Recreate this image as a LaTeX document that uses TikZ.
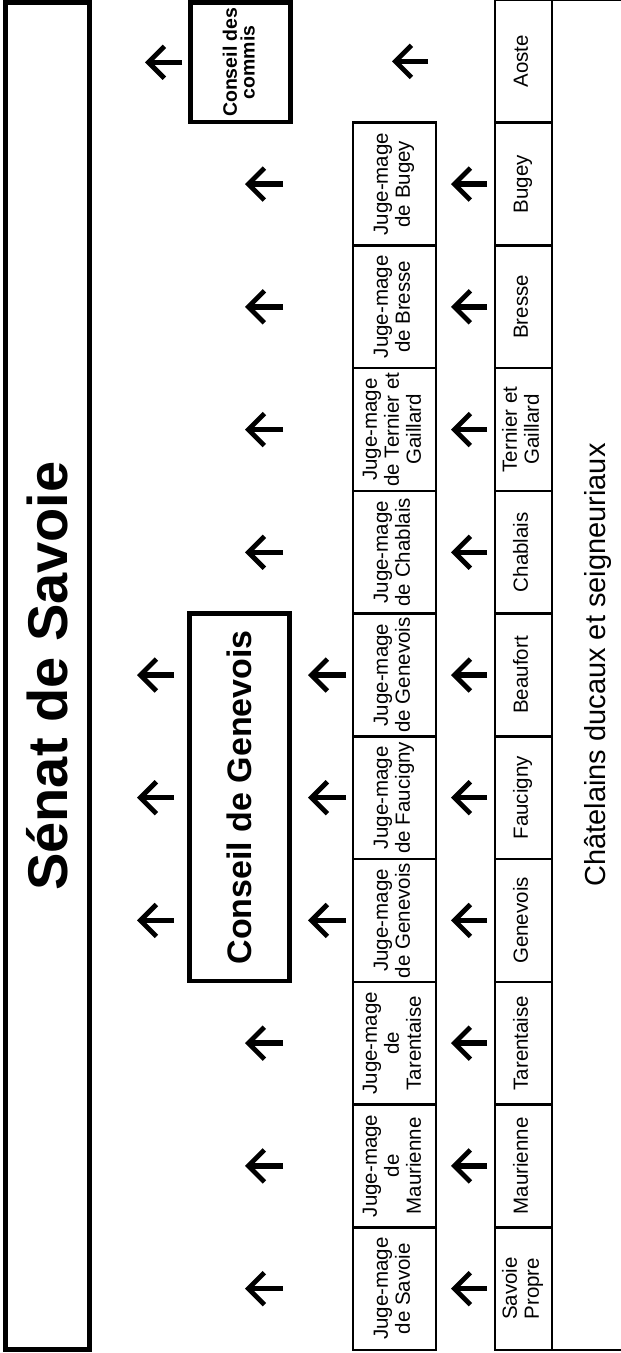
\documentclass[tikz,border=0pt]{standalone}
\usepackage{fontspec}
\setmainfont{Liberation Sans}
\usetikzlibrary{arrows.meta}
\newcommand{\rtx}[1]{\rotatebox{90}{\begin{tabular}{@{}c@{}}#1\end{tabular}}}
\begin{document}
\begin{tikzpicture}[x=1pt,y=-1pt,
  thinbox/.style={draw, line width=2.5pt, inner sep=0pt, outer sep=0pt,
    minimum height=122.73pt, font=\fontsize{20.5}{22}\selectfont},
  jmbox/.style={thinbox, minimum width=83pt},
  chbox/.style={thinbox, minimum width=57pt},
  thickbox/.style={draw, line width=4.5pt, inner sep=0pt, outer sep=0pt},
  arr/.style={line width=5.5pt, -{Straight Barb[length=16pt,width=32pt,line width=4.8pt]}}]
\useasboundingbox (0,0) rectangle (621,1353);

% Senat
\node[thickbox, line width=5pt, minimum width=84pt, minimum height=1347pt] (senat) at (47.5,676)
  {\rotatebox{90}{\fontsize{56}{60}\selectfont\bfseries Sénat de Savoie}};

% Conseils
\node[thickbox, minimum width=100pt, minimum height=119.5pt] (commis) at (240.5,62.25)
  {\rtx{\fontsize{19.5}{23}\selectfont\bfseries Conseil des\\\fontsize{19.5}{23}\selectfont\bfseries commis}};
\node[thickbox, minimum width=100pt, minimum height=367.5pt] (cg) at (239.5,797.3)
  {\rotatebox{90}{\fontsize{34}{38}\selectfont\bfseries Conseil de Genevois}};

% outer chatelains box
\node[thinbox, minimum width=91pt, minimum height=1350pt] (outer) at (597.5,675) {};
\node[inner sep=0pt] (chtext) at (597.5,665)
  {\rotatebox{90}{\fontsize{29}{32}\selectfont Châtelains ducaux et seigneuriaux}};

% chatelain boxes
\node[chbox] (ch0) at (523.5,61.36) {\rtx{Aoste}};
\node[chbox] (ch1) at (523.5,184.09) {\rtx{Bugey}};
\node[chbox] (ch2) at (523.5,306.82) {\rtx{Bresse}};
\node[chbox] (ch3) at (523.5,429.55) {\rtx{Ternier et\\Gaillard}};
\node[chbox] (ch4) at (523.5,552.27) {\rtx{Chablais}};
\node[chbox] (ch5) at (523.5,675.00) {\rtx{Beaufort}};
\node[chbox] (ch6) at (523.5,797.73) {\rtx{Faucigny}};
\node[chbox] (ch7) at (523.5,920.45) {\rtx{Genevois}};
\node[chbox] (ch8) at (523.5,1043.18) {\rtx{Tarentaise}};
\node[chbox] (ch9) at (523.5,1165.91) {\rtx{Maurienne}};
\node[chbox] (ch10) at (523.5,1288.64) {\rtx{Savoie\\Propre}};

% juge-mage boxes
\node[jmbox] (jm1) at (394.5,184.09) {\rtx{Juge-mage\\de Bugey}};
\node[jmbox] (jm2) at (394.5,306.82) {\rtx{Juge-mage\\de Bresse}};
\node[jmbox] (jm3) at (394.5,429.55) {\rtx{Juge-mage\\de Ternier et\\Gaillard}};
\node[jmbox] (jm4) at (394.5,552.27) {\rtx{Juge-mage\\de Chablais}};
\node[jmbox] (jm5) at (394.5,675.00) {\rtx{Juge-mage\\de Genevois}};
\node[jmbox] (jm6) at (394.5,797.73) {\rtx{Juge-mage\\de Faucigny}};
\node[jmbox] (jm7) at (394.5,920.45) {\rtx{Juge-mage\\de Genevois}};
\node[jmbox] (jm8) at (394.5,1043.18) {\rtx{Juge-mage\\de\\Tarentaise}};
\node[jmbox] (jm9) at (394.5,1165.91) {\rtx{Juge-mage\\de\\Maurienne}};
\node[jmbox] (jm10) at (394.5,1288.64) {\rtx{Juge-mage\\de Savoie}};

% arrows chatelains -> juge-mage
\foreach \k in {1,...,10}
  \draw[arr, shorten <=8pt, shorten >=15pt] (ch\k.west) -- (jm\k.east |- ch\k.west);
% Aoste -> commis
\draw[arr, shorten <=67pt, shorten >=101.5pt] (ch0.west) -- (commis.east |- ch0.west);
% commis -> senat
\draw[arr, shorten <=8.5pt, shorten >=55.5pt] (commis.west) -- (senat.east |- commis.west);
% juge-mage -> senat
\foreach \k in {1,2,3,4,8,9,10}
  \draw[arr, shorten <=70pt, shorten >=155.5pt] (jm\k.west) -- (senat.east |- jm\k.west);
% juge-mage -> conseil de Genevois
\foreach \k in {5,6,7}
  \draw[arr, shorten <=7pt, shorten >=18.5pt] (jm\k.west) -- (cg.east |- jm\k.west);
% conseil de Genevois -> senat
\foreach \k in {5,6,7}
  \draw[arr, shorten <=15.5pt, shorten >=47.5pt] (cg.west |- jm\k.west) -- (senat.east |- jm\k.west);
\end{tikzpicture}
\end{document}
